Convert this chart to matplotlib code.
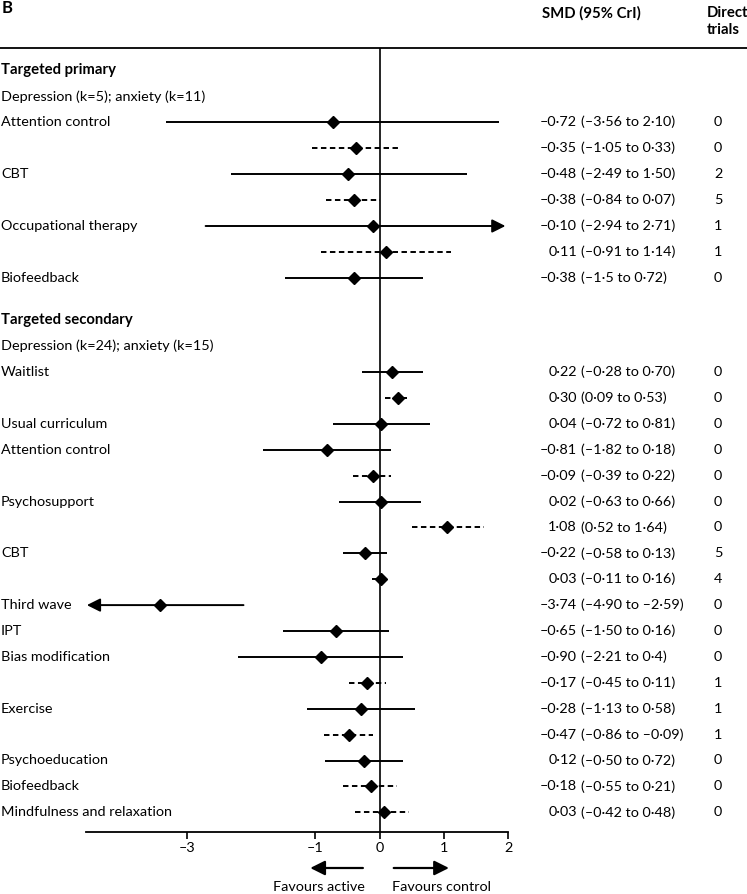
import matplotlib
matplotlib.use("Agg")
import matplotlib.pyplot as plt
import numpy as np

plt.rcParams["font.family"] = ["Lato", "DejaVu Sans"]
plt.rcParams["font.size"] = 10.4

# Targeted primary block (plotted positions)
primary_labels = ["Attention control", "", "CBT", "", "Occupational therapy", "", "Biofeedback"]
primary_est = [-0.72, -0.37, -0.49, -0.40, -0.11, 0.10, -0.40]
primary_lo = [-3.33, -1.05, -2.32, -0.84, -2.71, -0.91, -1.47]
primary_hi = [1.86, 0.31, 1.36, 0.00, 1.96, 1.11, 0.68]
primary_dashed = [False, True, False, True, False, True, False]
primary_arrow = ["", "", "", "", "right", "", ""]
primary_point = ["–0·72", "–0·35", "–0·48", "–0·38", "–0·10", "0·11", "–0·38"]
primary_ci = ["(–3·56 to 2·10)", "(–1·05 to 0·33)", "(–2·49 to 1·50)", "(–0·84 to 0·07)",
              "(–2·94 to 2·71)", "(–0·91 to 1·14)", "(–1·5 to 0·72)"]
primary_trials = [0, 0, 2, 5, 1, 1, 0]

# Targeted secondary block
secondary_labels = ["Waitlist", "", "Usual curriculum", "Attention control", "", "Psychosupport", "",
                    "CBT", "", "Third wave", "IPT", "Bias modification", "", "Exercise", "",
                    "Psychoeducation", "Biofeedback", "Mindfulness and relaxation"]
secondary_est = [0.20, 0.29, 0.02, -0.82, -0.10, 0.02, 1.05, -0.23, 0.02, -3.42, -0.68, -0.92,
                 -0.19, -0.29, -0.48, -0.25, -0.13, 0.07]
secondary_lo = [-0.27, 0.08, -0.72, -1.81, -0.41, -0.63, 0.50, -0.57, -0.12, -4.56, -1.50, -2.21,
                -0.47, -1.13, -0.87, -0.85, -0.57, -0.38]
secondary_hi = [0.68, 0.42, 0.79, 0.17, 0.17, 0.64, 1.62, 0.12, 0.15, -2.12, 0.14, 0.36,
                0.10, 0.55, -0.10, 0.36, 0.27, 0.46]
secondary_dashed = [False, True, False, False, True, False, True, False, True, False, False, False,
                    True, False, True, False, True, True]
secondary_arrow = ["", "", "", "", "", "", "", "", "", "left", "", "", "", "", "", "", "", ""]
secondary_point = ["0·22", "0·30", "0·04", "–0·81", "–0·09", "0·02", "1·08", "–0·22", "0·03",
                   "–3·74", "–0·65", "–0·90", "–0·17", "–0·28", "–0·47", "0·12", "–0·18", "0·03"]
secondary_ci = ["(–0·28 to 0·70)", "(0·09 to 0·53)", "(–0·72 to 0·81)", "(–1·82 to 0·18)",
                "(–0·39 to 0·22)", "(–0·63 to 0·66)", "(0·52 to 1·64)", "(–0·58 to 0·13)",
                "(–0·11 to 0·16)", "(–4·90 to –2·59)", "(–1·50 to 0·16)", "(–2·21 to 0·4)",
                "(–0·45 to 0·11)", "(–1·13 to 0·58)", "(–0·86 to –0·09)", "(–0·50 to 0·72)",
                "(–0·55 to 0·21)", "(–0·42 to 0·48)"]
secondary_trials = [0, 0, 0, 0, 0, 0, 0, 5, 4, 0, 0, 0, 1, 1, 1, 0, 0, 0]

tick_values = [-3, -1, 0, 1, 2]
tick_labels = ["–3", "–1", "0", "1", "2"]

W, H = 747, 894
X0, XS = 379.6, 64.2  # pixel of SMD 0, pixels per SMD unit
AXIS_Y, TOP_Y = 832, 48
X_MIN, X_MAX = -4.57, 2.0
DASH = (0, (2.8, 1.8))
BOLD = 10.7

fig = plt.figure(figsize=(W / 100, H / 100), dpi=100)
ax = fig.add_axes([0, 0, 1, 1])
ax.set_xlim(-X0 / XS, (W - X0) / XS)
ax.set_ylim(H, 0)
tr = ax.get_yaxis_transform()


def draw_block(y, labels, est, lo, hi, dashed, arrow, point, ci, trials):
    for i in range(len(y)):
        ls = DASH if dashed[i] else "-"
        if arrow[i] == "right":
            ax.annotate("", xy=(hi[i], y[i]), xytext=(lo[i], y[i]),
                        arrowprops=dict(arrowstyle="-|>", mutation_scale=20, lw=1.4,
                                        color="k", shrinkA=0, shrinkB=0))
        elif arrow[i] == "left":
            ax.annotate("", xy=(lo[i], y[i]), xytext=(hi[i], y[i]),
                        arrowprops=dict(arrowstyle="-|>", mutation_scale=20, lw=1.4,
                                        color="k", shrinkA=0, shrinkB=0))
        else:
            ax.plot([lo[i], hi[i]], [y[i], y[i]], color="k", lw=1.4, ls=ls,
                    solid_capstyle="butt", dash_capstyle="butt")
        ax.plot(est[i], y[i], marker="D", ms=5.8, color="k", ls="none", zorder=5)
        if labels[i]:
            ax.text(1 / W, y[i], labels[i], transform=tr, ha="left", va="center")
        ax.text(577 / W, y[i], point[i], transform=tr, ha="right", va="center")
        ax.text(581 / W, y[i], ci[i], transform=tr, ha="left", va="center")
        ax.text(718 / W, y[i], str(trials[i]), transform=tr, ha="center", va="center")


y_primary = 122 + 26.0 * np.arange(len(primary_labels))
y_secondary = 372 + 25.9 * np.arange(len(secondary_labels))

draw_block(y_primary, primary_labels, primary_est, primary_lo, primary_hi, primary_dashed,
           primary_arrow, primary_point, primary_ci, primary_trials)
draw_block(y_secondary, secondary_labels, secondary_est, secondary_lo, secondary_hi,
           secondary_dashed, secondary_arrow, secondary_point, secondary_ci, secondary_trials)

# section headers
ax.text(1 / W, 70, "Targeted primary", transform=tr, ha="left", va="center",
        fontweight="bold", fontsize=BOLD)
ax.text(1 / W, 97, "Depression (k=5); anxiety (k=11)", transform=tr, ha="left", va="center")
ax.text(1 / W, 320, "Targeted secondary", transform=tr, ha="left", va="center",
        fontweight="bold", fontsize=BOLD)
ax.text(1 / W, 346, "Depression (k=24); anxiety (k=15)", transform=tr, ha="left", va="center")

# column headers
ax.text(2 / W, 8, "B", transform=tr, ha="left", va="center", fontweight="bold", fontsize=12)
ax.text(542 / W, 13, "SMD (95% CrI)", transform=tr, ha="left", va="center",
        fontweight="bold", fontsize=BOLD)
ax.text(707 / W, 13, "Direct", transform=tr, ha="left", va="center", fontweight="bold", fontsize=BOLD)
ax.text(707 / W, 30, "trials", transform=tr, ha="left", va="center", fontweight="bold", fontsize=BOLD)

ax.axhline(TOP_Y, color="k", lw=1.3)
ax.vlines(0, TOP_Y, AXIS_Y, color="k", lw=1.2)

# x axis
for side in ["top", "left", "right"]:
    ax.spines[side].set_visible(False)
ax.spines["bottom"].set_position(("data", AXIS_Y))
ax.spines["bottom"].set_bounds(X_MIN, X_MAX)
ax.spines["bottom"].set_linewidth(1.3)
ax.set_xticks(tick_values)
ax.set_xticklabels(tick_labels)
ax.tick_params(axis="x", direction="out", length=5, width=1.2, pad=2, labelsize=10.4)
ax.set_yticks([])

# favours arrows
arrow_kw = dict(arrowstyle="-|>", mutation_scale=22, lw=1.6, color="k", shrinkA=0, shrinkB=0)
ax.annotate("", xy=(-1.08, 868), xytext=(-0.26, 868), arrowprops=arrow_kw)
ax.annotate("", xy=(1.08, 868), xytext=(0.22, 868), arrowprops=arrow_kw)
ax.text(-0.94, 887, "Favours active", ha="center", va="center")
ax.text(0.96, 887, "Favours control", ha="center", va="center")

fig.savefig("out.png", dpi=100)
